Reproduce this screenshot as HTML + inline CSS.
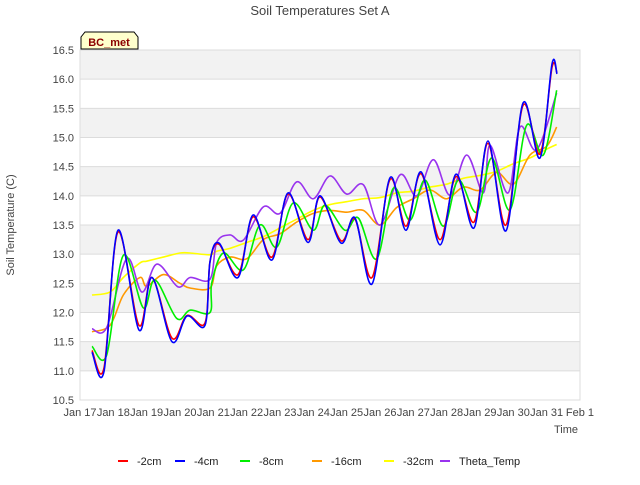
<!DOCTYPE html>
<html><head><meta charset="utf-8"><style>
body{margin:0;background:#fff}
svg{font-family:"Liberation Sans",sans-serif}
</style></head><body>
<svg id="c" width="640" height="480">
<rect width="640" height="480" fill="#fff"/>
<text x="320" y="15" text-anchor="middle" font-size="13" fill="#444">Soil Temperatures Set A</text>
<g id="bands"></g><g id="grid"></g><g id="ticks"></g><g id="series"></g>
<text x="14" y="225" transform="rotate(-90 14 225)" text-anchor="middle" font-size="11" fill="#444">Soil Temperature (C)</text>
<text x="566" y="433" text-anchor="middle" font-size="11" fill="#444">Time</text>
<g><path d="M81,49 L81,37 L85,32 L134,32 L138,37 L138,49 Z" fill="#ffffcc" stroke="#000" stroke-width="1"/><text x="109" y="46" text-anchor="middle" font-size="11" font-weight="bold" fill="#8b0000">BC_met</text></g>
<g id="legend"></g>
</svg>
<script>
const yTicks=[10.5,11.0,11.5,12.0,12.5,13.0,13.5,14.0,14.5,15.0,15.5,16.0,16.5];
const xTickLabels=["Jan 17","Jan 18","Jan 19","Jan 20","Jan 21","Jan 22","Jan 23","Jan 24","Jan 25","Jan 26","Jan 27","Jan 28","Jan 29","Jan 30","Jan 31","Feb 1"];
const names=["-2cm","-4cm","-8cm","-16cm","-32cm","Theta_Temp"];
const colors=["#ff0000","#0000ff","#00ee00","#ff9900","#ffff00","#9933ee"];
const t4=[0.36,0.72,1.14,1.77,2.16,2.76,3.21,3.75,3.9,4.17,4.74,5.19,5.76,6.24,6.84,7.2,7.83,8.25,8.76,9.3,9.78,10.23,10.8,11.28,11.82,12.24,12.78,13.29,13.8,14.16,14.31];
const v4=[11.32,10.99,13.41,11.7,12.6,11.5,11.94,11.78,12.87,13.19,12.6,13.67,12.9,14.05,13.2,14.0,13.19,13.62,12.49,14.31,13.41,14.41,13.16,14.37,13.45,14.94,13.4,15.59,14.65,16.26,16.09];
const v2=[11.35,11.05,13.38,11.78,12.6,11.56,11.95,11.82,12.87,13.17,12.65,13.64,12.95,14.03,13.25,13.98,13.23,13.6,12.6,14.28,13.48,14.38,13.25,14.33,13.55,14.9,13.5,15.55,14.72,16.2,16.1];
const t8=[0.36,0.8,1.3,1.9,2.25,2.9,3.3,3.9,3.95,4.3,4.9,5.4,5.9,6.4,7.0,7.35,7.95,8.35,8.9,9.4,9.9,10.35,10.9,11.35,11.9,12.35,12.9,13.4,13.9,14.3];
const v8=[11.42,11.27,12.98,12.08,12.56,11.9,12.04,12.0,12.5,13.02,12.73,13.5,13.12,13.88,13.41,13.84,13.41,13.62,12.92,14.13,13.58,14.27,13.48,14.27,13.72,14.65,13.76,15.21,14.7,15.81];
const tth=[0.36,0.8,1.4,1.86,2.31,2.94,3.3,3.9,4.1,4.5,4.9,5.5,6.0,6.5,7.0,7.5,8.0,8.5,9.0,9.6,10.1,10.6,11.1,11.6,12.1,12.3,12.84,13.2,13.7,14.3];
const vth=[11.72,11.74,12.92,12.35,12.83,12.44,12.6,12.57,13.2,13.33,13.24,13.81,13.7,14.24,13.95,14.34,14.03,14.19,13.5,14.36,14.0,14.62,14.01,14.7,14.05,14.87,14.05,15.18,14.79,15.76];
const tslow=[0.36,0.9,1.3,1.8,2.0,2.5,3.0,3.3,3.9,4.1,4.5,5.0,5.5,6.0,6.5,7.0,7.5,8.0,8.5,9.0,9.5,10.0,10.5,11.0,11.5,12.0,12.5,13.0,13.5,14.0,14.3];
const v16=[11.67,11.78,12.3,12.6,12.45,12.65,12.5,12.42,12.42,12.8,12.95,12.92,13.25,13.35,13.55,13.7,13.75,13.72,13.75,13.5,13.8,13.95,14.1,13.95,14.15,14.1,14.4,14.2,14.7,14.85,15.18];
const v32=[12.3,12.35,12.6,12.85,12.88,12.95,13.02,13.02,12.99,13.05,13.1,13.2,13.3,13.45,13.6,13.75,13.85,13.9,13.95,13.97,14.05,14.08,14.15,14.2,14.3,14.35,14.42,14.55,14.65,14.8,14.88];
const seriesT=[t4,t4,t8,tslow,tslow,tth];
const seriesV=[v2,v4,v8,v16,v32,vth];
const order=[4,3,5,2,0,1];

const X0=80,X1=580,Y0=400,Y1=50;
const xs=d=>X0+(d/15)*(X1-X0);
const ys=v=>Y0-(v-10.5)/6*(Y0-Y1);
const NS="http://www.w3.org/2000/svg";
function mk(tag,attrs,parent){const e=document.createElementNS(NS,tag);for(const k in attrs)e.setAttribute(k,attrs[k]);parent.appendChild(e);return e;}
const bands=document.getElementById('bands'),grid=document.getElementById('grid'),ticks=document.getElementById('ticks'),ser=document.getElementById('series'),leg=document.getElementById('legend');
for(let i=0;i<yTicks.length-1;i++){
 const a=ys(yTicks[i+1]),b=ys(yTicks[i]);
 const r=mk('rect',{x:X0,y:a,width:X1-X0,height:b-a,fill:(i%2===1)?'#f2f2f2':'#ffffff'},bands);
 
 
}
mk('rect',{x:X0,y:Y1,width:X1-X0,height:Y0-Y1,fill:'none',stroke:'#ddd'},bands);
yTicks.forEach(v=>{
 const l=mk('line',{x1:X0,x2:X1,y1:ys(v),y2:ys(v),stroke:'#dcdcdc'},grid);
 
 
 const t=mk('text',{x:X0-6,y:ys(v)+4,'text-anchor':'end','font-size':'11',fill:'#444'},ticks);
 t.textContent=v.toFixed(1);
 
 
});
xTickLabels.forEach((s,i)=>{
 const t=mk('text',{x:xs(i),y:416,'text-anchor':'middle','font-size':'11',fill:'#444'},ticks);
 t.textContent=s;
 
 
});
function path(T,V){
 const p=T.map((t,i)=>[xs(t),ys(V[i])]);
 let d='M'+p[0][0]+','+p[0][1];
 for(let i=0;i<p.length-1;i++){
  const p0=p[Math.max(0,i-1)],p1=p[i],p2=p[i+1],p3=p[Math.min(p.length-1,i+2)];
  const c1=[p1[0]+(p2[0]-p0[0])/6,p1[1]+(p2[1]-p0[1])/6],c2=[p2[0]-(p3[0]-p1[0])/6,p2[1]-(p3[1]-p1[1])/6];
  d+=' C'+c1[0]+','+c1[1]+' '+c2[0]+','+c2[1]+' '+p2[0]+','+p2[1];
 }
 return d;
}
order.forEach(i=>{
 const e=mk('path',{d:path(seriesT[i],seriesV[i]),fill:'none',stroke:colors[i],'stroke-width':'1.6'},ser);
 
 
});
const lx=[118,175,240,312,384,440];
names.forEach((n,i)=>{
 const g=mk('g',{},leg);
 
 
 mk('line',{x1:lx[i],x2:lx[i]+10,y1:461,y2:461,stroke:colors[i],'stroke-width':'2'},g);
 const t=mk('text',{x:lx[i]+19,y:465,'font-size':'11',fill:'#222'},g);
 t.textContent=n;
});
</script>
</body></html>
